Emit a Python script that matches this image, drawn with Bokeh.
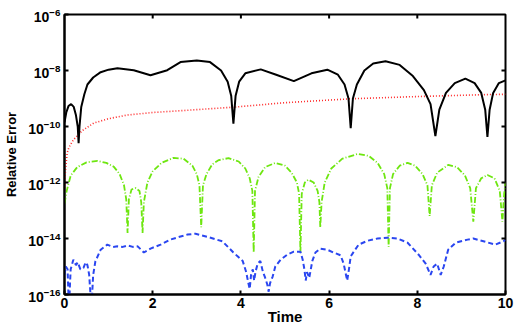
import math
from bokeh.plotting import figure
from bokeh.models import FixedTicker, Range1d, LogTickFormatter
from bokeh.embed import file_html
from bokeh.resources import INLINE

# ---- data (time, log10 of relative error) ----
black_t = [0.0, 0.04, 0.09, 0.15, 0.21, 0.26, 0.30, 0.32, 0.34, 0.38, 0.45, 0.52, 0.65, 0.82,
           1.0, 1.2, 1.57, 1.95, 2.33, 2.63, 3.0, 3.3, 3.55, 3.7, 3.78, 3.83, 3.88, 3.96, 4.1,
           4.45, 4.8, 5.2, 5.6, 5.96, 6.2, 6.35, 6.44, 6.49, 6.54, 6.63, 6.8, 7.0, 7.28, 7.6,
           7.9, 8.15, 8.3, 8.41, 8.5, 8.65, 8.85, 9.09, 9.3, 9.45, 9.54, 9.59, 9.64, 9.72,
           9.85, 10.0]
black_e = [-9.85, -9.5, -9.27, -9.2, -9.3, -9.6, -10.0, -10.6, -10.0, -9.3, -8.85, -8.5, -8.25,
           -8.06, -7.97, -7.92, -7.99, -8.17, -7.99, -7.7, -7.64, -7.7, -8.0, -8.4, -8.9, -9.9,
           -8.9, -8.4, -8.1, -7.96, -8.15, -8.38, -8.1, -7.97, -8.15, -8.5, -9.0, -10.06, -9.0,
           -8.5, -8.0, -7.75, -7.67, -7.8, -8.2, -8.7, -9.2, -10.34, -9.4, -8.8, -8.45, -8.29,
           -8.45, -8.8, -9.4, -10.37, -9.4, -8.8, -8.45, -8.35]

red_t = [0.0, 0.02, 0.06, 0.1, 0.2, 0.4, 0.66, 1.0, 1.43, 2.0, 2.79, 3.83, 5.0, 6.49, 8.0, 9.59, 10.0]
red_e = [-12.3, -11.6, -10.95, -10.75, -10.48, -10.15, -9.88, -9.72, -9.59, -9.5, -9.42, -9.31,
         -9.15, -9.01, -8.93, -8.86, -8.85]

green_t = [0.0, 0.05, 0.14, 0.29, 0.5, 0.75, 0.95, 1.12, 1.25, 1.35, 1.40, 1.43, 1.46, 1.52,
           1.61, 1.70, 1.74, 1.77, 1.80, 1.88, 2.0, 2.2, 2.47, 2.7, 2.9, 3.0, 3.06, 3.1, 3.14,
           3.22, 3.35, 3.5, 3.72, 3.95, 4.1, 4.2, 4.26, 4.29, 4.32, 4.4, 4.55, 4.78, 5.0, 5.15,
           5.27, 5.32, 5.35, 5.38, 5.45, 5.53, 5.65, 5.74, 5.78, 5.8, 5.83, 5.9, 6.05, 6.3,
           6.65, 6.9, 7.1, 7.25, 7.32, 7.35, 7.38, 7.45, 7.6, 7.78, 7.95, 8.12, 8.23, 8.28,
           8.33, 8.45, 8.7, 8.9, 9.08, 9.2, 9.27, 9.33, 9.45, 9.59, 9.75, 9.87, 9.93, 9.97, 10.0]
green_e = [-12.75, -12.3, -11.75, -11.45, -11.28, -11.23, -11.3, -11.44, -11.7, -12.1, -12.6,
           -13.8, -12.6, -12.25, -12.2, -12.3, -12.7, -13.8, -12.7, -12.0, -11.6, -11.3, -11.12,
           -11.15, -11.4, -11.7, -12.1, -13.6, -12.1, -11.7, -11.35, -11.2, -11.13, -11.25,
           -11.5, -11.85, -12.3, -14.5, -12.3, -11.8, -11.45, -11.3, -11.4, -11.65, -12.0,
           -12.4, -14.5, -12.4, -12.0, -11.9, -12.0, -12.3, -12.7, -13.6, -12.7, -12.0, -11.5,
           -11.15, -10.98, -11.05, -11.3, -11.7, -12.2, -14.3, -12.2, -11.7, -11.4, -11.3,
           -11.4, -11.7, -12.1, -13.2, -12.1, -11.65, -11.37, -11.45, -11.75, -12.2, -13.4,
           -12.2, -11.85, -11.73, -11.85, -12.3, -13.4, -12.4, -12.0]

blue_t = [0.0, 0.03, 0.07, 0.1, 0.14, 0.2, 0.26, 0.3, 0.36, 0.43, 0.48, 0.52, 0.56, 0.61,
          0.65, 0.7, 0.82, 0.97, 1.1, 1.2, 1.32, 1.43, 1.55, 1.66, 1.8, 1.95, 2.18, 2.4, 2.63,
          2.79, 2.97, 3.24, 3.58, 3.83, 4.04, 4.12, 4.17, 4.2, 4.23, 4.27, 4.3, 4.33, 4.38,
          4.44, 4.5, 4.55, 4.6, 4.63, 4.66, 4.72, 4.78, 4.9, 5.05, 5.2, 5.35, 5.4, 5.44, 5.47,
          5.5, 5.55, 5.62, 5.69, 5.8, 5.96, 6.1, 6.26, 6.33, 6.41, 6.45, 6.49, 6.56, 6.67,
          6.87, 7.1, 7.32, 7.55, 7.78, 8.03, 8.19, 8.3, 8.37, 8.45, 8.53, 8.6, 8.7, 8.87, 9.14,
          9.27, 9.5, 9.77, 9.95, 10.0]
blue_e = [-15.3, -15.0, -15.1, -16.5, -15.1, -14.76, -14.95, -14.85, -15.1, -15.05, -14.85,
          -14.95, -15.3, -16.5, -15.3, -14.82, -14.4, -14.22, -14.3, -14.28, -14.3, -14.25,
          -14.3, -14.28, -14.5, -14.36, -14.22, -14.04, -13.93, -13.86, -13.83, -13.94, -14.1,
          -14.5, -14.8, -15.2, -15.6, -15.8, -15.3, -15.1, -15.5, -15.2, -14.9, -14.8, -15.2,
          -15.4, -15.65, -15.9, -15.6, -15.36, -15.0, -14.76, -14.58, -14.47, -14.47, -14.75,
          -15.1, -15.5, -15.2, -15.4, -14.8, -14.5, -14.36, -14.4, -14.5, -14.6, -14.9, -15.5,
          -15.1, -14.64, -14.47, -14.22, -14.08, -14.0, -13.97, -14.0, -14.15, -14.58, -14.9,
          -15.3, -15.0, -14.9, -15.3, -15.0, -14.4, -14.15, -14.04, -14.0, -14.1, -14.22,
          -14.1, -14.05]

x_ticks = [0, 2, 4, 6, 8, 10]
y_ticks = [1e-16, 1e-14, 1e-12, 1e-10, 1e-8, 1e-6]
x_min, x_max = 0, 10
y_min, y_max = 1e-16, 1e-6

FONT = "Liberation Sans"

p = figure(width=518, height=327, y_axis_type="log",
           x_range=Range1d(x_min, x_max), y_range=Range1d(y_min, y_max),
           output_backend="svg", toolbar_location=None,
           min_border_left=64, min_border_right=13, min_border_top=14, min_border_bottom=32)
p.grid.visible = False
p.outline_line_color = "black"
p.outline_line_width = 2
p.outline_line_alpha = 1.0
p.background_fill_color = "white"

def tolin(e):
    return [10 ** v for v in e]

p.line(red_t, tolin(red_e), line_color="#ff2a2a", line_width=1.6, line_dash="1 2")
p.line(green_t, tolin(green_e), line_color="#6ee610", line_width=1.8, line_dash="6 2 1 2")
p.line(blue_t, tolin(blue_e), line_color="#2a46f0", line_width=2, line_dash="5 3")
p.line(black_t, tolin(black_e), line_color="black", line_width=2)

# mirrored inward ticks on the top and right edges (clipped to the frame)
inner_x = x_ticks[1:-1]
inner_y = y_ticks[1:-1]
p.scatter(inner_x, [y_max] * len(inner_x), marker="dash", angle=math.pi / 2, size=8,
          line_color="black", line_width=2)
p.scatter([x_max] * len(inner_y), inner_y, marker="dash", size=8,
          line_color="black", line_width=2)

def style(ax):
    ax.axis_line_color = "black"
    ax.axis_line_width = 2
    ax.major_tick_in = 4
    ax.major_tick_out = 0
    ax.major_tick_line_width = 2
    ax.minor_tick_line_color = None
    ax.major_label_text_font = FONT
    ax.major_label_text_font_style = "bold"
    ax.major_label_text_font_size = "14px"
    ax.major_label_text_color = "black"
    ax.axis_label_text_font = FONT
    ax.axis_label_text_color = "black"

xa = p.xaxis[0]
xa.ticker = FixedTicker(ticks=x_ticks)
style(xa)
xa.axis_label = "Time"
xa.axis_label_text_font_style = "bold"
xa.axis_label_text_font_size = "15px"
xa.major_label_standoff = 3
xa.axis_label_standoff = -3

ya = p.yaxis[0]
ya.ticker = FixedTicker(ticks=y_ticks)
ya.formatter = LogTickFormatter()
style(ya)
ya.axis_label = "Relative Error"
ya.axis_label_text_font_style = "bold"
ya.axis_label_text_font_size = "13px"
ya.major_label_standoff = 4
ya.axis_label_standoff = 6

open("out.html", "w").write(file_html(p, INLINE))
